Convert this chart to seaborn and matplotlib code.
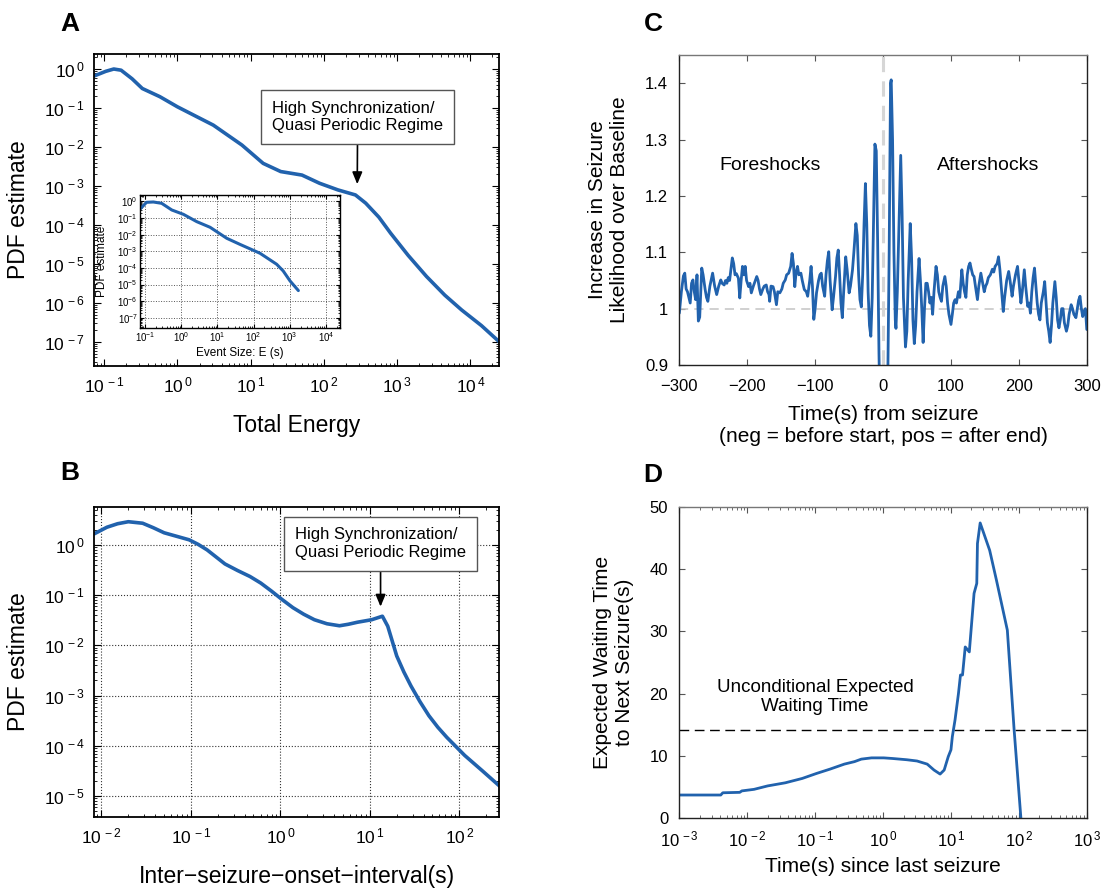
import numpy as np
import pandas as pd
import matplotlib
matplotlib.use("Agg")
import matplotlib.pyplot as plt
import seaborn as sns
from matplotlib.ticker import FixedLocator, LogLocator, NullFormatter, FuncFormatter

# A: pdf of total energy (log10 coordinates)
a_logx = [-1.14, -0.98, -0.87, -0.77, -0.62, -0.48, -0.24, 0.0, 0.49, 0.88, 1.17, 1.41,
          1.70, 1.94, 2.19, 2.43, 2.57, 2.75, 2.91, 3.15, 3.40, 3.65, 3.88, 4.15, 4.39]
a_logy = [-0.18, -0.06, 0.0, -0.03, -0.25, -0.50, -0.71, -0.97, -1.44, -1.95, -2.42, -2.63,
          -2.72, -2.93, -3.10, -3.23, -3.44, -3.80, -4.21, -4.78, -5.32, -5.80, -6.18, -6.58, -6.99]

# A inset: event size
inset_logx = [-1.14, -0.96, -0.77, -0.54, -0.26, 0.06, 0.43, 0.80, 1.26, 1.62, 2.18, 2.64, 2.82, 3.01, 3.24]
inset_logy = [-0.48, -0.06, -0.04, -0.12, -0.52, -0.78, -1.22, -1.56, -2.22, -2.58, -3.12, -3.78, -4.18, -4.78, -5.36]

# B: inter-seizure-onset interval pdf
b_logx = [-2.08, -1.94, -1.82, -1.70, -1.54, -1.42, -1.30, -1.16, -1.02, -0.92, -0.82, -0.72,
          -0.62, -0.48, -0.34, -0.22, -0.10, 0.02, 0.14, 0.26, 0.38, 0.52, 0.66, 0.76, 0.86,
          1.02, 1.14, 1.20, 1.30, 1.38, 1.46, 1.56, 1.66, 1.76, 1.86, 2.06, 2.26, 2.45]
b_logy = [0.22, 0.35, 0.42, 0.46, 0.43, 0.34, 0.24, 0.17, 0.10, 0.01, -0.10, -0.24,
          -0.38, -0.51, -0.63, -0.76, -0.92, -1.09, -1.25, -1.38, -1.49, -1.57, -1.61, -1.58,
          -1.54, -1.49, -1.42, -1.62, -2.21, -2.53, -2.81, -3.12, -3.40, -3.63, -3.83, -4.19,
          -4.50, -4.80]

# C: seizure likelihood ratio around seizures
c_time = [-300, -297, -294, -292, -290, -288, -286, -284, -282, -280, -278, -276, -274, -273,
          -272, -270, -268, -267, -265, -262, -260, -258, -255, -251, -248, -245, -242, -239,
          -237, -234, -232, -230, -228, -226, -224, -222, -220, -218, -216, -213, -211, -209,
          -207, -205, -203, -201, -198, -196, -194, -191, -188, -186, -184, -182, -180, -177,
          -175, -172, -170, -168, -167, -165, -162, -160, -157, -155, -152, -149, -147, -144,
          -142, -139, -136, -134, -132, -130, -128, -126, -124, -121, -119, -116, -113, -111,
          -108, -106, -104, -102, -100, -98, -95, -93, -91, -89, -86, -84, -82, -80, -78, -75,
          -73, -70, -68, -66, -64, -62, -60, -58, -55, -53, -50, -48, -45, -43, -40, -38, -36,
          -34, -32, -30, -28, -26, -24, -22, -20, -18, -16, -14, -12, -10, -8, -6, -5, -3, 0,
          3, 5, 7, 9, 11, 12, 14, 16, 18, 19, 21, 24, 26, 28, 30, 33, 35, 37, 40, 42, 44, 46,
          48, 50, 53, 55, 57, 59, 61, 63, 65, 67, 69, 71, 73, 75, 78, 80, 82, 84, 86, 88, 91,
          93, 95, 97, 100, 102, 104, 106, 108, 111, 113, 116, 118, 120, 122, 124, 126, 128,
          130, 132, 134, 136, 139, 141, 144, 146, 149, 151, 153, 155, 158, 161, 163, 165, 168,
          170, 172, 174, 177, 179, 182, 185, 187, 190, 192, 195, 198, 200, 203, 205, 208, 210,
          213, 215, 217, 219, 221, 223, 225, 227, 229, 231, 233, 236, 238, 240, 242, 244, 246,
          248, 250, 253, 255, 257, 259, 261, 263, 265, 267, 270, 272, 274, 277, 279, 281, 284,
          286, 288, 290, 292, 294, 296, 298, 300]
c_ratio = [0.992, 1.03, 1.058, 1.063, 1.035, 1.03, 1.02, 1.01, 1.045, 1.051, 1.03, 1.016, 1.06,
           1.02, 0.978, 0.985, 1.04, 1.072, 1.06, 1.034, 1.02, 1.013, 1.04, 1.063, 1.04, 1.025,
           1.04, 1.051, 1.045, 1.042, 1.05, 1.045, 1.055, 1.05, 1.07, 1.09, 1.08, 1.06, 1.062,
           1.054, 1.019, 1.05, 1.075, 1.06, 1.075, 1.05, 1.039, 1.045, 1.028, 1.04, 1.05, 1.057,
           1.05, 1.035, 1.025, 1.035, 1.04, 1.042, 1.03, 1.025, 1.013, 1.04, 1.039, 1.03, 1.007,
           1.03, 1.028, 1.035, 1.045, 1.051, 1.06, 1.063, 1.075, 1.098, 1.08, 1.039, 1.065,
           1.075, 1.06, 1.063, 1.05, 1.034, 1.03, 1.022, 1.05, 1.075, 1.04, 0.981, 1.0, 1.028,
           1.05, 1.06, 1.063, 1.04, 1.022, 1.06, 1.085, 1.101, 1.05, 0.998, 1.02, 1.057, 1.09,
           1.104, 1.06, 1.01, 0.984, 1.03, 1.092, 1.07, 1.028, 1.04, 1.069, 1.10, 1.151, 1.13,
           1.06, 1.016, 1.003, 1.06, 1.15, 1.222, 1.15, 1.03, 0.97, 0.951, 1.02, 1.16, 1.292,
           1.28, 1.12, 0.92, 0.85, 0.80, 0.78, 0.80, 0.84, 0.88, 1.10, 1.40, 1.406, 1.30, 1.10,
           0.98, 0.965, 1.03, 1.18, 1.272, 1.17, 1.02, 0.932, 0.96, 1.05, 1.151, 1.09, 0.98,
           0.938, 0.97, 1.03, 1.089, 1.05, 1.00, 0.94, 1.00, 1.045, 1.045, 1.03, 1.01, 1.02,
           0.99, 1.03, 1.075, 1.06, 1.03, 1.02, 1.013, 1.04, 1.057, 1.04, 1.01, 0.99, 0.972,
           0.99, 1.01, 1.016, 1.01, 1.03, 1.02, 1.069, 1.045, 1.03, 1.02, 1.06, 1.075, 1.081,
           1.07, 1.06, 1.057, 1.04, 1.016, 1.04, 1.063, 1.05, 1.03, 1.04, 1.045, 1.055, 1.06,
           1.07, 1.065, 1.075, 1.08, 1.092, 1.07, 1.04, 0.995, 1.02, 1.05, 1.066, 1.05, 1.022,
           1.04, 1.06, 1.075, 1.05, 1.01, 1.03, 1.069, 1.04, 1.004, 1.01, 0.992, 1.03, 1.055,
           1.072, 1.04, 1.01, 0.99, 0.98, 1.01, 1.03, 1.048, 1.01, 0.975, 0.96, 0.94, 0.97, 1.01,
           1.048, 1.02, 0.98, 0.966, 0.98, 1.0, 1.0, 0.975, 0.96, 0.97, 0.99, 1.007, 1.0, 0.99,
           0.984, 1.0, 1.015, 1.022, 1.0, 0.986, 0.995, 1.0, 0.963]

# D: expected waiting time vs time since last seizure
d_logt = [-3.0, -2.39, -2.36, -2.11, -2.08, -1.90, -1.70, -1.44, -1.19, -0.98, -0.78, -0.57,
          -0.42, -0.32, -0.17, 0.01, 0.14, 0.35, 0.50, 0.65, 0.75, 0.84, 0.90, 0.96, 1.00,
          1.02, 1.06, 1.11, 1.14, 1.17, 1.21, 1.27, 1.34, 1.38, 1.39, 1.43, 1.57, 1.67, 1.83,
          1.93, 2.03]
d_wait = [3.74, 3.74, 4.1, 4.17, 4.4, 4.65, 5.2, 5.7, 6.4, 7.2, 7.9, 8.7, 9.1, 9.5, 9.7, 9.7,
          9.6, 9.4, 9.2, 8.7, 7.75, 7.1, 7.75, 9.9, 11.0, 13.1, 15.8, 20.0, 23.0, 23.0, 27.5,
          26.7, 36.1, 37.7, 44.1, 47.4, 43.0, 38.2, 30.2, 14.2, 0.0]
d_uncond = 14.2

blue = "#2162ad"
note = "High Synchronization/\nQuasi Periodic Regime"

sns.set_style("ticks")
plt.rcParams["font.family"] = ["Liberation Sans", "DejaVu Sans"]
plt.rcParams.update({
    "mathtext.fontset": "custom",
    "mathtext.rm": "Liberation Sans",
    "mathtext.it": "Liberation Sans:italic",
    "mathtext.bf": "Liberation Sans:bold",
    "xtick.direction": "in", "ytick.direction": "in",
    "xtick.top": True, "ytick.right": True,
    "axes.edgecolor": "black", "axes.linewidth": 1.3,
    "xtick.color": "black", "ytick.color": "black",
    "xtick.labelcolor": "black", "ytick.labelcolor": "black",
    "text.color": "black", "axes.labelcolor": "black",
})


def pow10(v, pos):
    k = int(round(np.log10(v)))
    return r"$\mathregular{10^{\,%d}}$" % k


def pow10_tight(v, pos):
    k = int(round(np.log10(v)))
    return r"$\mathregular{10^{%d}}$" % k


def log_axes(ax, xdec, ydec, fs=12.5, pad=7, major=5, minor=2.5, fmt=pow10):
    ax.set_xscale("log")
    ax.set_yscale("log")
    ax.xaxis.set_major_locator(FixedLocator([10.0 ** k for k in xdec]))
    ax.yaxis.set_major_locator(FixedLocator([10.0 ** k for k in ydec]))
    ax.xaxis.set_major_formatter(FuncFormatter(fmt))
    ax.yaxis.set_major_formatter(FuncFormatter(fmt))
    ax.xaxis.set_minor_locator(LogLocator(base=10, subs=np.arange(2, 10), numticks=100))
    ax.yaxis.set_minor_locator(LogLocator(base=10, subs=np.arange(2, 10), numticks=100))
    ax.xaxis.set_minor_formatter(NullFormatter())
    ax.yaxis.set_minor_formatter(NullFormatter())
    ax.tick_params(which="major", labelsize=fs, pad=pad, length=major, width=0.8)
    ax.tick_params(which="minor", length=minor, width=0.6)


def curve(ax, x, y, lw):
    df = pd.DataFrame({"x": x, "y": y})
    sns.lineplot(data=df, x="x", y="y", ax=ax, color=blue, lw=lw,
                 estimator=None, sort=False)
    ax.set_xlabel("")
    ax.set_ylabel("")


fig = plt.figure(figsize=(11.03, 8.89), dpi=100)

# ---------------- A ----------------
ax_a = fig.add_axes([0.0852, 0.5886, 0.3672, 0.3503])
log_axes(ax_a, range(-1, 5), range(-7, 1), pad=7)
curve(ax_a, 10.0 ** np.array(a_logx), 10.0 ** np.array(a_logy), 2.6)
ax_a.set_xlim(10 ** -1.14, 10 ** 4.39)
ax_a.set_ylim(10 ** -7.61, 10 ** 0.377)
ax_a.set_xlabel("Total Energy", fontsize=16.5)
ax_a.set_ylabel("PDF estimate", fontsize=16.5)
ax_a.xaxis.set_label_coords(0.5, -0.155)
ax_a.yaxis.set_label_coords(-0.157, 0.5)
ax_a.annotate(note, xy=(0.650, 0.583), xycoords="axes fraction",
              xytext=(0.651, 0.799), textcoords="axes fraction",
              ha="center", va="center", multialignment="left", fontsize=12,
              bbox=dict(boxstyle="square,pad=0.65", fc="white", ec="#555555", lw=1),
              arrowprops=dict(arrowstyle="-|>,head_length=0.6,head_width=0.25",
                              color="black", lw=1.2, shrinkA=0, shrinkB=0))

# inset
ax_in = fig.add_axes([0.1269, 0.6310, 0.1813, 0.1496])
log_axes(ax_in, range(-1, 5), range(-7, 1), fs=7, pad=1.5, major=3, minor=1.5,
         fmt=pow10_tight)
ax_in.grid(True, which="major", ls=":", color="#555555", lw=0.7)
curve(ax_in, 10.0 ** np.array(inset_logx), 10.0 ** np.array(inset_logy), 2.2)
ax_in.set_xlim(10 ** -1.14, 10 ** 4.39)
ax_in.set_ylim(10 ** -7.61, 10 ** 0.377)
ax_in.set_xlabel("Event Size: E (s)", fontsize=8.5)
ax_in.set_ylabel("PDF estimate", fontsize=8.5)
ax_in.xaxis.set_label_coords(0.5, -0.14)
ax_in.yaxis.set_label_coords(-0.16, 0.5)
for s in ax_in.spines.values():
    s.set_linewidth(1.0)

# ---------------- B ----------------
ax_b = fig.add_axes([0.0852, 0.0807, 0.3675, 0.3494])
log_axes(ax_b, range(-2, 3), range(-5, 1), pad=7)
ax_b.grid(True, which="major", ls=":", color="#333333", lw=0.8)
curve(ax_b, 10.0 ** np.array(b_logx), 10.0 ** np.array(b_logy), 2.6)
ax_b.set_xlim(10 ** -2.084, 10 ** 2.447)
ax_b.set_ylim(10 ** -5.42, 10 ** 0.76)
ax_b.set_xlabel("Inter\u2212seizure\u2212onset\u2212interval(s)", fontsize=16.5)
ax_b.set_ylabel("PDF estimate", fontsize=16.5)
ax_b.xaxis.set_label_coords(0.5, -0.155)
ax_b.yaxis.set_label_coords(-0.157, 0.5)
ax_b.annotate(note, xy=(0.707, 0.678), xycoords="axes fraction",
              xytext=(0.707, 0.881), textcoords="axes fraction",
              ha="center", va="center", multialignment="left", fontsize=12,
              bbox=dict(boxstyle="square,pad=0.65", fc="white", ec="#555555", lw=1),
              arrowprops=dict(arrowstyle="-|>,head_length=0.6,head_width=0.25",
                              color="black", lw=1.2, shrinkA=0, shrinkB=0))

# ---------------- C ----------------
ax_c = fig.add_axes([0.6159, 0.5894, 0.3694, 0.3487])
ax_c.axhline(1.0, color="#c4c4c4", lw=1.1, ls=(0, (6, 4)), zorder=1)
ax_c.axvline(0.0, color="#d6d6d6", lw=2.2, ls=(0, (5, 3)), zorder=1)
curve(ax_c, c_time, c_ratio, 2.0)
ax_c.set_xlim(-300, 300)
ax_c.set_ylim(0.9, 1.45)
ax_c.set_xticks(np.arange(-300, 301, 100))
ax_c.set_yticks([0.9, 1.0, 1.1, 1.2, 1.3, 1.4])
ax_c.yaxis.set_major_formatter(FuncFormatter(lambda v, p: f"{v:g}"))
ax_c.tick_params(labelsize=12, length=4, width=0.8, color="#555555")
ax_c.tick_params(axis="x", pad=10)
ax_c.tick_params(axis="y", pad=8)
for s in ax_c.spines.values():
    s.set_linewidth(1.0)
    s.set_color("#222222")
ax_c.spines["top"].set_color("#777777")
ax_c.set_xlabel("Time(s) from seizure\n(neg = before start, pos = after end)", fontsize=15)
ax_c.set_ylabel("Increase in Seizure\nLikelihood over Baseline", fontsize=15)
ax_c.xaxis.set_label_coords(0.5, -0.128)
ax_c.yaxis.set_label_coords(-0.123, 0.5)
ax_c.text(-166, 1.254, "Foreshocks", fontsize=14, ha="center", va="center")
ax_c.text(155, 1.254, "Aftershocks", fontsize=14, ha="center", va="center")

# ---------------- D ----------------
ax_d = fig.add_axes([0.6159, 0.0795, 0.3694, 0.3505])
ax_d.set_xscale("log")
ax_d.axhline(d_uncond, color="black", lw=1.0, ls=(0, (7, 4)), zorder=1)
curve(ax_d, 10.0 ** np.array(d_logt), d_wait, 2.0)
ax_d.set_xlim(1e-3, 1e3)
ax_d.set_ylim(0, 50)
ax_d.xaxis.set_major_locator(FixedLocator([10.0 ** k for k in range(-3, 4)]))
ax_d.xaxis.set_major_formatter(FuncFormatter(pow10))
ax_d.xaxis.set_minor_locator(LogLocator(base=10, subs=np.arange(2, 10), numticks=100))
ax_d.xaxis.set_minor_formatter(NullFormatter())
ax_d.set_yticks(np.arange(0, 51, 10))
ax_d.tick_params(which="major", labelsize=12, length=4, width=0.8, color="#555555")
ax_d.tick_params(which="minor", length=2, width=0.6, color="#555555")
ax_d.tick_params(axis="x", which="major", pad=8)
ax_d.tick_params(axis="y", pad=8)
for s in ax_d.spines.values():
    s.set_linewidth(1.0)
    s.set_color("#222222")
ax_d.spines["top"].set_color("#777777")
ax_d.set_xlabel("Time(s) since last seizure", fontsize=15)
ax_d.set_ylabel("Expected Waiting Time\nto Next Seizure(s)", fontsize=15)
ax_d.xaxis.set_label_coords(0.5, -0.125)
ax_d.yaxis.set_label_coords(-0.111, 0.5)
ax_d.text(0.1, 19.5, "Unconditional Expected\nWaiting Time", fontsize=13.5,
          ha="center", va="center")

# panel letters
for lab, x, y in [("A", 70, 24), ("B", 70, 473), ("C", 653, 24), ("D", 653, 475)]:
    fig.text(x / 1103, 1 - y / 889, lab, fontsize=19, fontweight="bold",
             ha="center", va="center")

fig.savefig("out.png", dpi=100)
